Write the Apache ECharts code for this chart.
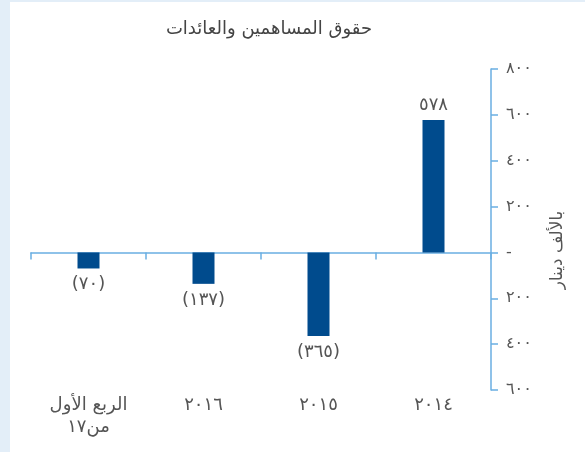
<!DOCTYPE html>
<html>
<head>
<meta charset="utf-8">
<script src="https://cdn.jsdelivr.net/npm/echarts@6/dist/echarts.min.js"></script>
<style>
  html, body { margin: 0; padding: 0; }
  #main { width: 585px; height: 452px; }
</style>
</head>
<body>
<div id="main"></div>
<script>
const categories = ["الربع الأول\nمن١٧", "٢٠١٦", "٢٠١٥", "٢٠١٤"];
const values = [-70, -137, -365, 578];
const yMin = -600;
const yMax = 800;
const yStep = 200;

const arabicDigits = "٠١٢٣٤٥٦٧٨٩";
function toArabic(n) {
    return String(n).replace(/[0-9]/g, (d) => arabicDigits[+d]);
}

const textColor = "#555";
const axisColor = "#6aaee2";
const font = "'DejaVu Sans', 'Noto Sans', sans-serif";

const chart = echarts.init(document.getElementById("main"));

chart.setOption({
    backgroundColor: "#e3eef8",
    animation: false,
    graphic: [
        { type: "rect", z: -10, shape: { x: 10, y: 2, width: 575, height: 450 }, style: { fill: "#fff" } },
        {
            type: "text", x: 558, y: 250, rotation: Math.PI / 2,
            style: { text: "بالألف دينار", fill: textColor, font: "17px " + font, align: "center", verticalAlign: "middle" }
        }
    ],
    title: {
        text: "حقوق المساهمين والعائدات",
        left: 264,
        top: 15,
        textAlign: "center",
        textStyle: { color: "#444", fontSize: 18, fontWeight: "normal", fontFamily: font }
    },
    grid: { left: 31, right: 94, top: 69, bottom: 62, containLabel: false, outerBoundsMode: "none" },
    xAxis: [{
        type: "category",
        data: categories,
        axisLine: { onZero: true, lineStyle: { color: axisColor, width: 1.5 } },
        axisTick: { show: true, length: 7, lineStyle: { color: axisColor, width: 1.5 } },
        axisLabel: { show: false }
    }, {
        type: "category",
        data: categories,
        position: "bottom",
        axisLine: { show: false, onZero: false },
        axisTick: { show: false },
        axisLabel: { margin: 4, color: textColor, fontSize: 18, fontFamily: font, lineHeight: 22 }
    }],
    yAxis: {
        type: "value",
        position: "right",
        min: yMin,
        max: yMax,
        interval: yStep,
        splitLine: { show: false },
        axisLine: { show: true, lineStyle: { color: axisColor, width: 1.5 } },
        axisTick: { show: true, length: 7, lineStyle: { color: axisColor, width: 1.5 } },
        axisLabel: {
            margin: 15,
            color: textColor,
            fontSize: 16,
            fontFamily: font,
            formatter: (v) => (v === 0 ? "-" : toArabic(Math.abs(v)))
        }
    },
    series: [{
        type: "bar",
        barWidth: 22,
        itemStyle: { color: "#004b8d" },
        data: values.map((v) => ({
            value: v,
            label: {
                show: true,
                position: v < 0 ? "bottom" : "top",
                distance: v < 0 ? 7 : 6,
                color: textColor,
                fontSize: 18,
                fontFamily: font,
                formatter: v < 0 ? "(" + toArabic(-v) + ")" : toArabic(v)
            }
        }))
    }]
});
</script>
</body>
</html>
